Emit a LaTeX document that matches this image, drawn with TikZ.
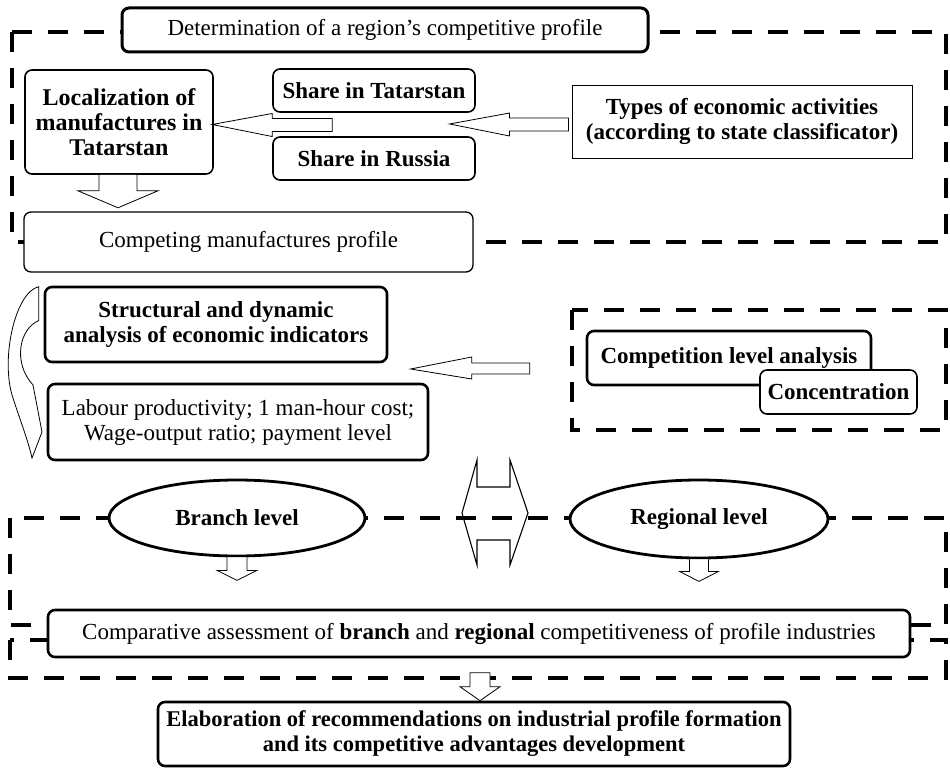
\documentclass[tikz,border=0pt]{standalone}
\usepackage{fontspec}
\setmainfont{Liberation Serif}
\usetikzlibrary{shapes.geometric,calc}
\begin{document}
\begin{tikzpicture}[x=1pt,y=-1pt,
  font=\fontsize{23}{25}\selectfont,
  box/.style={draw, rounded corners=7pt, fill=white, align=center, inner sep=0pt},
  thickbox/.style={box, line width=2.6pt},
  medbox/.style={box, line width=1.6pt},
  thinbox/.style={draw, fill=white, align=center, inner sep=0pt, line width=0.9pt},
  bftext/.style={font=\fontsize{23}{25}\selectfont\bfseries},
  oval/.style={draw, ellipse, fill=white, line width=2.8pt, inner sep=0pt, bftext},
  frame/.style={line width=3.8pt, dash pattern=on 20pt off 16pt},
  harrow/.style={draw, line width=0.8pt, fill=white, line join=miter},
  harrowo/.style={draw, line width=1.1pt, line join=miter}]
\useasboundingbox (0,0) rectangle (950,768);

% dashed frames
\draw[frame] (12,32) rectangle (946,242);
\draw[frame] (572,310) rectangle (946,430);
\draw[frame] (10,518) rectangle (946,625);
\draw[frame] (10,640) rectangle (946,678);

% boxes
\node[thickbox, line width=3pt, minimum width=526, minimum height=44] (det) at (385,30) {Determination of a region's competitive profile};
\node[medbox, minimum width=188, minimum height=104, font=\fontsize{24}{25}\selectfont\bfseries] (loc) at (119,122) {Localization of\\manufactures in\\Tatarstan};
\node[medbox, minimum width=202, minimum height=43, bftext] (shT) at (374,90.5) {Share in Tatarstan};
\node[medbox, minimum width=202, minimum height=43, bftext] (shR) at (374,158.5) {Share in Russia};
\node[thinbox, minimum width=340, minimum height=73, bftext] (types) at (742,121.5) {Types of economic activities\\(according to state classificator)};
\node[medbox, line width=1.3pt, minimum width=449, minimum height=60] (comp) at (248.5,242) {Competing manufactures profile};
\node[thickbox, minimum width=342, minimum height=75, bftext] (struct) at (216,324.5) {Structural and dynamic\\analysis of economic indicators};
\node[thickbox, minimum width=380, minimum height=76] (labour) at (238,422) {Labour productivity; 1 man-hour cost;\\Wage-output ratio; payment level};
\node[thickbox, minimum width=284, minimum height=54, bftext] (cla) at (729,358) {Competition level analysis};
\node[medbox, minimum width=157, minimum height=44, bftext] (conc) at (838.5,392) {Concentration};

% double arrow (behind ovals, frame shows through)
\draw[harrowo] (477,487) -- (477,460) -- (462,513) -- (477,565) -- (477,540) -- (510,540) -- (510,565) -- (528,513) -- (510,460) -- (510,487) -- cycle;

\node[oval, minimum width=256, minimum height=76] (branch) at (237,518) {Branch level};
\node[oval, minimum width=258, minimum height=78] (regional) at (699,519) {Regional level};
\node[thickbox, minimum width=862, minimum height=47] (compar) at (479,633.5) {Comparative assessment of \textbf{branch} and \textbf{regional} competitiveness of profile industries};
\node[thickbox, minimum width=632, minimum height=64, font=\fontsize{22.5}{25}\selectfont\bfseries] (elab) at (474,734) {Elaboration of recommendations on industrial profile formation\\and its competitive advantages development};

% hollow arrows
% types -> shares
\coordinate (t1) at ($(types.west)+(-3,0)$);
\draw[harrow] (t1) ++(0,-3.5) -- ++(-59,0) -- ++(0,-5) -- ++(-60,11) -- ++(60,12) -- ++(0,-5) -- ++(59,0) -- cycle;
% shares -> localization
\coordinate (t2) at ($(shT.south west)!0.5!(shR.north west)+(60,0)$);
\draw[harrow] (t2) ++(0,-6) -- ++(-60,0) -- ++(0,-5) -- ++(-60,11) -- ++(60,12) -- ++(0,-5) -- ++(60,0) -- cycle;
% localization -> competing
\draw[harrow] ($(loc.south)+(-20,0)$) -- ++(0,16) -- ++(-21,0) -- ++(40,17) -- ++(40,-17) -- ++(-21,0) -- ++(0,-16);
% competition -> structural / labour
\coordinate (t4) at ($(cla.west)+(-56,0)$);
\draw[harrow] (t4) ++(0,5) -- ++(0,11) -- ++(-58,0) -- ++(0,5) -- ++(-61,-10) -- ++(61,-12) -- ++(0,6) -- cycle;
% curved arrow structural -> labour
\draw[harrow] ($(struct.north west)+(-5,1)$) .. controls (15,292) and (0,360) .. (13,398) .. controls (20,420) and (28,440) .. (32,458) -- (42,432) -- (33,385) .. controls (12,362) and (20,328) .. ($(struct.north west)+(-5,35)$) -- cycle;
% ovals -> comparative
\draw[harrow] ($(branch.south)+(-10,0)$) -- ++(0,13) -- ++(-10,0) -- ++(20,10) -- ++(20,-10) -- ++(-10,0) -- ++(0,-13);
\draw[harrow] ($(regional.south)+(-9.5,0)$) -- ++(0,12) -- ++(-10,0) -- ++(19.5,10) -- ++(19.5,-10) -- ++(-10,0) -- ++(0,-12);
% comparative -> elaboration
\coordinate (t7) at ($(elab.north)+(6,-28)$);
\draw[harrow] ($(t7)+(-10,0)$) -- ++(0,14) -- ++(-10,0) -- ++(20,14) -- ++(20,-14) -- ++(-10,0) -- ++(0,-14) -- cycle;
\end{tikzpicture}
\end{document}
